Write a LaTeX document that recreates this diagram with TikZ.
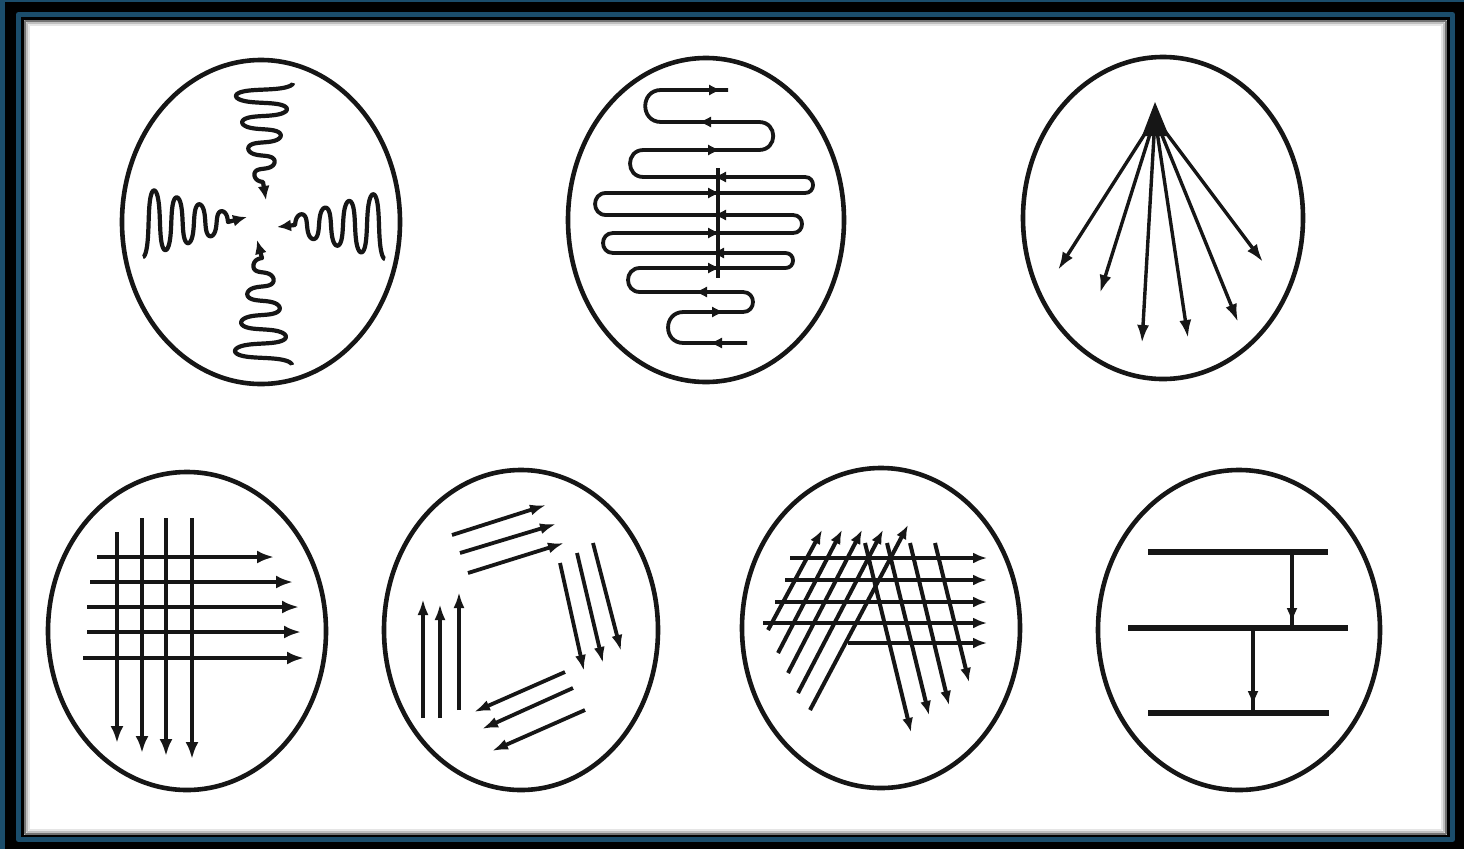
\documentclass[tikz,border=0pt]{standalone}
\usetikzlibrary{arrows.meta}
\definecolor{frameteal}{RGB}{27,77,107}
\definecolor{ink}{RGB}{22,22,22}
\begin{document}
\begin{tikzpicture}[x=1pt,y=-1pt,line join=round,
  dish/.style={draw=ink,line width=4.6pt},
  wave/.style={draw=ink,line width=4.2pt},
  wavetip/.style={{Latex[length=14pt,width=12pt]}-},
  fanarrow/.style={draw=ink,line width=3.4pt,-{Latex[length=18pt,width=12pt]}},
  gridarrow/.style={draw=ink,line width=4.4pt,-{Latex[length=17pt,width=13pt]}},
  quadarrow/.style={draw=ink,line width=3.8pt,-{Latex[length=16pt,width=11pt]}},
  hatcharrow/.style={draw=ink,line width=4pt,-{Latex[length=14pt,width=11pt]}},
  midhead/.style={draw=ink,line width=1pt,-{Latex[length=12pt,width=11pt]}},
  level/.style={draw=ink,line width=6.5pt},
  drop/.style={draw=ink,line width=3.2pt,-{Latex[length=15pt,width=11pt]}}]
\useasboundingbox (0,0) rectangle (1464,849);
% frame
\fill[black] (0,0) rectangle (1464,849);
\fill[frameteal] (0,0) rectangle (5,849);
\fill[frameteal] (0,0) rectangle (1464,1.5);
\draw[frameteal,line width=5pt] (18.5,14.5) rectangle (1452.5,839.5);
\fill[white] (24,20) rectangle (1447,835);
\draw[black!55,line width=2pt] (25,21) rectangle (1446,834);
\draw[black!25,line width=2pt] (27,23) rectangle (1444,832);
\draw[black!10,line width=2pt] (29,25) rectangle (1442,830);

% ---------- dish 1: four waves ----------
\coordinate (d1) at (261,222);
\draw[dish] (d1) ellipse [x radius=139, y radius=162];
\draw[wave,wavetip] (266,200) -- plot[domain=0:1350,samples=400,variable=\t]
  ({263-(7+\t/1350*23)*sin(\t)},{182-4.2*(\t/57.2958-0.35*sin(2*\t))});
\draw[wave,wavetip] (257,240) -- plot[domain=0:1350,samples=400,variable=\t]
  ({262-(7+\t/1350*23)*sin(\t)},{258+4.54*(\t/57.2958-0.35*sin(2*\t))});
\draw[wave,wavetip] (247,217) -- plot[domain=0:1350,samples=400,variable=\t]
  ({228-3.61*(\t/57.2958-0.35*sin(2*\t))},{222-(9+\t/1350*26)*sin(\t)});
\draw[wave,wavetip] (277,227) -- plot[domain=0:1350,samples=400,variable=\t]
  ({295+3.82*(\t/57.2958-0.35*sin(2*\t))},{225-(9+\t/1350*25)*sin(\t)});

% ---------- dish 2: serpentine ----------
\coordinate (d2) at (706,220);
\draw[dish] (d2) ellipse [x radius=138, y radius=162];
\draw[wave,line width=3.8pt] (728,90) -- (661,90) .. controls (640,90) and (640,122) .. (661,122)
 -- (759,122) .. controls (778,122) and (778,150) .. (759,150)
 -- (643.5,150) .. controls (625.5,150) and (625.5,177) .. (643.5,177)
 -- (805,177) .. controls (815.7,177) and (815.7,193) .. (805,193)
 -- (606,193) .. controls (591.4,193) and (591.4,215) .. (606,215)
 -- (793,215) .. controls (805,215) and (805,233) .. (793,233)
 -- (613,233) .. controls (599.7,233) and (599.7,253) .. (613,253)
 -- (785.5,253) .. controls (795.5,253) and (795.5,268) .. (785.5,268)
 -- (640,268) .. controls (624,268) and (624,292) .. (640,292)
 -- (743,292) .. controls (756.3,292) and (756.3,312) .. (743,312)
 -- (683.5,312) .. controls (662.9,312) and (662.9,343) .. (683.5,343)
 -- (747,343);
\draw[ink,line width=3.2pt] (718,168) -- (718,278);
\foreach \ax/\ay/\d in {716/90/1, 704/122/-1, 715/150/1, 719/177/-1, 715/193/1, 719/215/-1,
  715/233/1, 717/253/-1, 715/268/1, 700/292/-1, 719/312/1, 715/343/-1}
  \draw[midhead] (\ax-5*\d,\ay) -- (\ax+5*\d,\ay);

% ---------- dish 3: fan ----------
\coordinate (d3) at (1163,218);
\draw[dish] (d3) ellipse [x radius=140, y radius=161];
\coordinate (apex) at (1155,118);
\fill[ink] (1155,102) -- (1142,136) -- (1169,136) -- cycle;
\foreach \ex/\ey [count=\i] in {1058/270, 1100/293, 1142/343, 1188/338, 1238/322, 1263/262}{
  \coordinate (fan\i) at (\ex,\ey);
  \draw[fanarrow] (apex) -- (fan\i);}

% ---------- dish 4: grid ----------
\coordinate (d4) at (187,631);
\draw[dish] (d4) ellipse [x radius=139, y radius=159];
\foreach \y/\xa/\xb in {557/97/274, 582/90/293, 607/87/299, 632/87/301, 658/83/304}
  \draw[gridarrow] (\xa,\y) -- (\xb,\y);
\foreach \x/\ya/\yb in {117/532/743, 142/518/753, 166/518/756, 192/518/759}
  \draw[gridarrow] (\x,\ya) -- (\x,\yb);

% ---------- dish 5: four groups ----------
\coordinate (d5) at (521,630);
\draw[dish] (d5) ellipse [x radius=137, y radius=160];
\foreach \xa/\ya/\xb/\yb in {452/535/546/505, 460/553/556/524, 468/573/564/543,
  593/543/621/651, 577/553/603/663, 560/563/584/671,
  565/672/474/712, 573/688/482/729, 585/710/492/751,
  423/718/423/599, 440/718/440/604, 459/710/459/592}
  \draw[quadarrow] (\xa,\ya) -- (\xb,\yb);

% ---------- dish 6: cross-hatch ----------
\coordinate (d6) at (881,628);
\draw[dish] (d6) ellipse [x radius=139, y radius=160];
\foreach \y/\xa in {558/790, 580/785, 602/775, 623/763, 643/848}
  \draw[hatcharrow] (\xa,\y) -- (987,\y);
\foreach \xa/\ya/\xb/\yb in {768/630/822/530, 778/653/842/530, 788/673/862/530,
  798/693/883/530, 810/710/908/525}
  \draw[hatcharrow] (\xa,\ya) -- (\xb,\yb);
\foreach \xa/\ya/\xb/\yb in {865/543/911/732, 887/543/929/715, 910/543/949/705, 935/543/969/682}
  \draw[hatcharrow] (\xa,\ya) -- (\xb,\yb);

% ---------- dish 7: levels ----------
\coordinate (d7) at (1239,630);
\draw[dish] (d7) ellipse [x radius=141, y radius=160];
\coordinate (l1a) at (1148,552); \coordinate (l1b) at (1328,552);
\coordinate (l2a) at (1128,628); \coordinate (l2b) at (1348,628);
\coordinate (l3a) at (1148,713); \coordinate (l3b) at (1329,713);
\draw[level] (l1a) -- (l1b);
\draw[level] (l2a) -- (l2b);
\draw[level] (l3a) -- (l3b);
\draw[drop] (1292,552) -- (1292,623);
\draw[ink,line width=3.2pt] (1292,612) -- (1292,628);
\draw[drop] (1253,628) -- (1253,706);
\draw[ink,line width=3.2pt] (1253,695) -- (1253,713);
\end{tikzpicture}
\end{document}
